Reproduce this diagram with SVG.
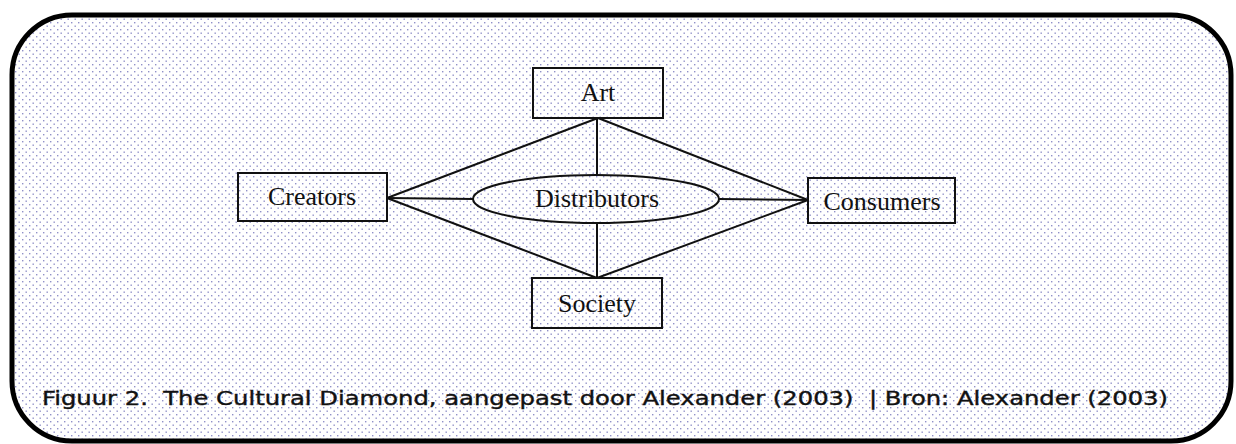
<svg xmlns="http://www.w3.org/2000/svg" width="1236" height="444" viewBox="0 0 1236 444">
<defs>
<pattern id="dots" x="0" y="0" width="7" height="7" patternUnits="userSpaceOnUse">
<rect x="1" y="1" width="1.4" height="1.4" fill="#9090c8"/>
<rect x="4.5" y="4.5" width="1.4" height="1.4" fill="#9090c8"/>
</pattern>
<style>
.box{fill:none;stroke:#111;stroke-width:2}
.lbl{font-family:"Liberation Serif","Times New Roman",serif;font-size:26px;fill:#111;text-anchor:middle}
.con{stroke:#111;stroke-width:2;fill:none}
.cap{font-family:"DejaVu Sans",Verdana,sans-serif;font-size:20px;fill:#111;stroke:#111;stroke-width:0.4;white-space:pre}
</style>
</defs>
<rect x="0" y="0" width="1236" height="444" fill="#fff"/>
<rect id="frame" x="12" y="15" width="1219" height="426" rx="60" ry="60" fill="url(#dots)" stroke="#000" stroke-width="5"/>
<g id="connectors">
<line class="con" x1="598" y1="118" x2="387" y2="198"/>
<line class="con" x1="598" y1="118" x2="808" y2="200"/>
<line class="con" x1="597" y1="118" x2="597" y2="175"/>
<line class="con" x1="597" y1="278" x2="387" y2="198"/>
<line class="con" x1="597" y1="278" x2="808" y2="200"/>
<line class="con" x1="597" y1="223" x2="597" y2="278"/>
<line class="con" x1="387" y1="198" x2="473" y2="199"/>
<line class="con" x1="719" y1="199" x2="808" y2="200"/>
</g>
<g id="art">
<rect class="box" x="533" y="68" width="130" height="50"/>
<text class="lbl" x="598" y="101">Art</text>
</g>
<g id="creators">
<rect class="box" x="238" y="173" width="149" height="48"/>
<text class="lbl" x="312" y="205">Creators</text>
</g>
<g id="distributors">
<ellipse class="box" cx="596" cy="199" rx="123" ry="24"/>
<text class="lbl" x="597" y="207">Distributors</text>
</g>
<g id="consumers">
<rect class="box" x="808" y="178" width="147" height="45"/>
<text class="lbl" x="882" y="210">Consumers</text>
</g>
<g id="society">
<rect class="box" x="532" y="278" width="130" height="50"/>
<text class="lbl" x="597" y="312">Society</text>
</g>
<text class="cap" x="42" y="405" textLength="1126" lengthAdjust="spacingAndGlyphs">Figuur 2.  The Cultural Diamond, aangepast door Alexander (2003)  | Bron: Alexander (2003)</text>
</svg>
